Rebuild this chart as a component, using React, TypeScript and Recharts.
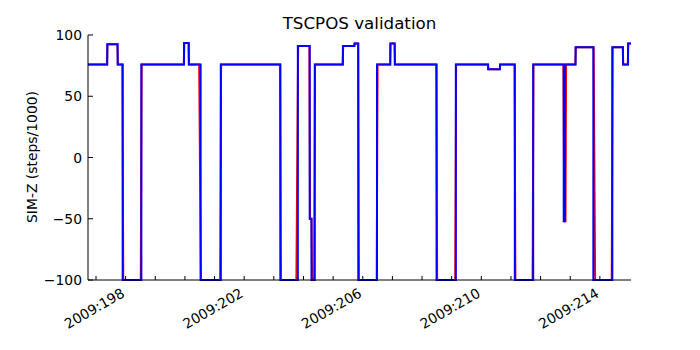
import { Line, LineChart, XAxis, YAxis } from "recharts";

// blue = commanded SIM-Z, stepped; red = telemetry, drawn underneath
const blueTimes = [
  196.73, 197.38, 197.73, 197.9, 198.53, 199.97, 200.13, 200.53, 201.21,
  203.22, 203.81, 204.21, 204.27, 204.38, 205.33, 205.72, 205.85, 206.48,
  206.93, 207.08, 208.49, 209.14, 210.23, 210.63, 211.13, 211.75, 212.78,
  212.82, 213.18, 213.78, 214.42, 214.78, 214.95, 215.05,
];
const blueValues = [
  76, 92.5, 76, -100, 76, 93.5, 76, -100, 76, -100, 91, -50, -100, 76, 91,
  93, -100, 76, 93, 76, -100, 76, 72, 76, -100, 76, -52, 76, 90, -100, 90, 76,
  93, 93,
];
const redTimes = [
  196.73, 197.37, 197.39, 197.72, 197.74, 197.89, 197.92, 198.51, 198.54,
  199.96, 199.98, 200.12, 200.14, 200.48, 200.54, 201.19, 201.22, 203.21,
  203.24, 203.76, 203.82, 204.2, 204.22, 204.27, 204.29, 204.36, 204.39,
  205.32, 205.34, 205.71, 205.73, 205.84, 205.87, 206.47, 206.5, 206.92,
  206.94, 207.07, 207.09, 208.48, 208.51, 209.12, 209.15, 210.22, 210.24,
  210.62, 210.64, 211.12, 211.15, 211.73, 211.76, 212.77, 212.8, 212.84,
  212.86, 213.17, 213.19, 213.79, 213.84, 214.4, 214.43, 214.77, 214.79,
  214.94, 214.96, 215.05,
];
const redValues = [
  76, 76, 92.5, 92.5, 76, 76, -100, -100, 76, 76, 93.5, 93.5, 76, 76, -100,
  -100, 76, 76, -100, -100, 91, 91, -50, -50, -100, -100, 76, 76, 91, 91, 93,
  93, -100, -100, 76, 76, 93, 93, 76, 76, -100, -100, 76, 76, 72, 72, 76, 76,
  -100, -100, 76, 76, -52, -52, 76, 76, 90, 90, -100, -100, 90, 90, 76, 76, 93,
  93,
];
const dayTicks = [
  197, 198, 199, 200, 201, 202, 203, 204, 205, 206, 207, 208, 209, 210, 211,
  212, 213, 214,
];
const labeledDays = [198, 202, 206, 210, 214];
const yTicks = [-100, -50, 0, 50, 100];

const blueData = blueTimes.map((t, i) => ({ t, v: blueValues[i] }));
const redData = redTimes.map((t, i) => ({ t, v: redValues[i] }));

const FONT = "DejaVu Sans";
const TICK_FONT = 13.9;
const PLOT = { left: 88, right: 631, top: 35, bottom: 280 };
const X_DOMAIN: [number, number] = [196.73, 215.05];

const fmtY = (v: number) => (v < 0 ? `\u2212${-v}` : `${v}`);

const BottomTick = (props: any) => {
  const { x, y, payload } = props;
  const day = payload.value;
  return (
    <g>
      <line x1={x} y1={y} x2={x} y2={y - 4} stroke="#000" />
      {labeledDays.includes(day) && (
        <text
          x={x}
          y={y + 16}
          textAnchor="end"
          fontSize={TICK_FONT}
          fontFamily={FONT}
          fill="#000"
          transform={`rotate(-30 ${x} ${y + 16})`}
        >
          {`2009:${day}`}
        </text>
      )}
    </g>
  );
};

const TopTick = (props: any) => {
  const { x, y } = props;
  return <line x1={x} y1={y} x2={x} y2={y + 4} stroke="#000" />;
};

const LeftTick = (props: any) => {
  const { x, y, payload } = props;
  return (
    <g>
      <line x1={x} y1={y} x2={x + 5} y2={y} stroke="#000" />
      <text
        x={x - 6}
        y={y + 5}
        textAnchor="end"
        fontSize={TICK_FONT}
        fontFamily={FONT}
        fill="#000"
      >
        {fmtY(payload.value)}
      </text>
    </g>
  );
};

const RightTick = (props: any) => {
  const { x, y } = props;
  return <line x1={x} y1={y} x2={x - 5} y2={y} stroke="#000" />;
};

const App = () => {
  return (
    <div
      style={{
        position: "absolute",
        left: 0,
        top: 0,
        width: 700,
        height: 350,
        background: "#fff",
      }}
    >
      <LineChart
        width={700}
        height={350}
        margin={{ top: PLOT.top, right: 700 - PLOT.right, bottom: 0, left: 0 }}
      >
        <XAxis
          dataKey="t"
          type="number"
          domain={X_DOMAIN}
          allowDataOverflow
          ticks={dayTicks}
          interval={0}
          height={350 - PLOT.bottom}
          tickSize={0}
          tickMargin={0}
          tickLine={false}
          axisLine={{ stroke: "#000" }}
          tick={<BottomTick />}
        />
        <XAxis
          xAxisId="top"
          orientation="top"
          dataKey="t"
          type="number"
          domain={X_DOMAIN}
          allowDataOverflow
          ticks={dayTicks}
          interval={0}
          height={0}
          tickSize={0}
          tickMargin={0}
          tickLine={false}
          axisLine={{ stroke: "#000" }}
          tick={<TopTick />}
        />
        <YAxis
          type="number"
          domain={[-100, 100]}
          ticks={yTicks}
          interval={0}
          width={PLOT.left}
          tickSize={0}
          tickMargin={0}
          tickLine={false}
          axisLine={{ stroke: "#000" }}
          tick={<LeftTick />}
        />
        <YAxis
          yAxisId="right"
          orientation="right"
          type="number"
          domain={[-100, 100]}
          ticks={yTicks}
          interval={0}
          width={0}
          tickSize={0}
          tickMargin={0}
          tickLine={false}
          axisLine={{ stroke: "#000" }}
          tick={<RightTick />}
        />
        <Line
          data={redData}
          dataKey="v"
          type="linear"
          stroke="#ff0000"
          strokeWidth={2}
          dot={false}
          isAnimationActive={false}
        />
        <Line
          data={blueData}
          dataKey="v"
          type="stepAfter"
          stroke="#0000ff"
          strokeWidth={2}
          dot={false}
          isAnimationActive={false}
        />
      </LineChart>
      <svg
        width={700}
        height={350}
        style={{ position: "absolute", left: 0, top: 0, pointerEvents: "none" }}
      >
        <text
          x={(PLOT.left + PLOT.right) / 2}
          y={29}
          textAnchor="middle"
          fontSize={16.7}
          fontFamily={FONT}
          fill="#000"
        >
          TSCPOS validation
        </text>
        <text
          x={37}
          y={157}
          textAnchor="middle"
          fontSize={TICK_FONT}
          fontFamily={FONT}
          fill="#000"
          transform="rotate(-90 37 157)"
        >
          SIM-Z (steps/1000)
        </text>
      </svg>
    </div>
  );
};

export default App;
